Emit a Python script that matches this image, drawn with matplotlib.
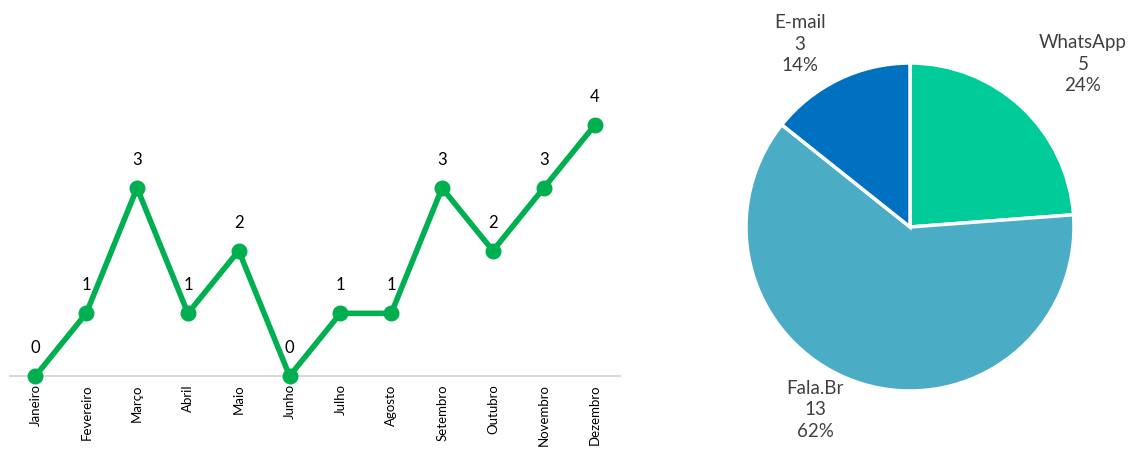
import matplotlib
matplotlib.use("Agg")
import matplotlib.pyplot as plt

plt.rcParams['font.family'] = ['Lato', 'DejaVu Sans']

# Monthly counts
months = ["Janeiro", "Fevereiro", "Março", "Abril", "Maio", "Junho",
          "Julho", "Agosto", "Setembro", "Outubro", "Novembro", "Dezembro"]
counts = [0, 1, 3, 1, 2, 0, 1, 1, 3, 2, 3, 4]

# Entry channels
channels = ["WhatsApp", "Fala.Br", "E-mail"]
channel_counts = [5, 13, 3]
channel_colors = ["#00CC99", "#4BACC6", "#0070C0"]

W, H = 1131, 450
fig = plt.figure(figsize=(W / 100, H / 100), dpi=100)

# ---- Line chart ----
ax = fig.add_axes([10 / W, (H - 376) / H, 610 / W, (376 - 94) / H])
x = list(range(len(months)))
ax.plot(x, counts, color="#00B050", lw=4, marker="o", ms=10.5,
        clip_on=False, zorder=3, solid_joinstyle="miter")
for xi, v in zip(x, counts):
    ax.annotate(str(v), (xi, v), textcoords="offset pixels", xytext=(0, 20),
                ha="center", va="bottom", fontsize=12, color="#000000")
ax.set_xlim(-0.5, 11.5)
ax.set_ylim(0, 4.5)
ax.set_xticks(x)
ax.set_xticklabels(months, rotation=90, fontsize=9.5, color="#000000",
                   va="top", ha="center")
ax.tick_params(axis="x", length=0, pad=6)
ax.set_yticks([])
for s in ["top", "right", "left"]:
    ax.spines[s].set_visible(False)
ax.spines["bottom"].set_color("#D9D9D9")
ax.spines["bottom"].set_linewidth(1.5)
ax.spines["bottom"].set_zorder(1)

# ---- Pie chart ----
cx, cy, r = 910, 227, 164
pax = fig.add_axes([(cx - r) / W, (H - cy - r) / H, 2 * r / W, 2 * r / H])
pax.pie(channel_counts, colors=channel_colors, startangle=90, counterclock=False,
        radius=1, wedgeprops=dict(edgecolor="white", linewidth=2.5))
pax.set_xlim(-1, 1)
pax.set_ylim(-1, 1)
pax.set_aspect("equal")
pax.axis("off")

total = sum(channel_counts)
label_pos = {"WhatsApp": (1083, 64), "Fala.Br": (815, 410), "E-mail": (800, 44)}
for name, n in zip(channels, channel_counts):
    px, py = label_pos[name]
    pct = round(100 * n / total)
    pax.text((px - cx) / r, (cy - py) / r, f"{name}\n{n}\n{pct}%",
             ha="center", va="center", fontsize=13.5, color="#404040",
             linespacing=1.3, clip_on=False)

fig.savefig("out.png", dpi=100)
